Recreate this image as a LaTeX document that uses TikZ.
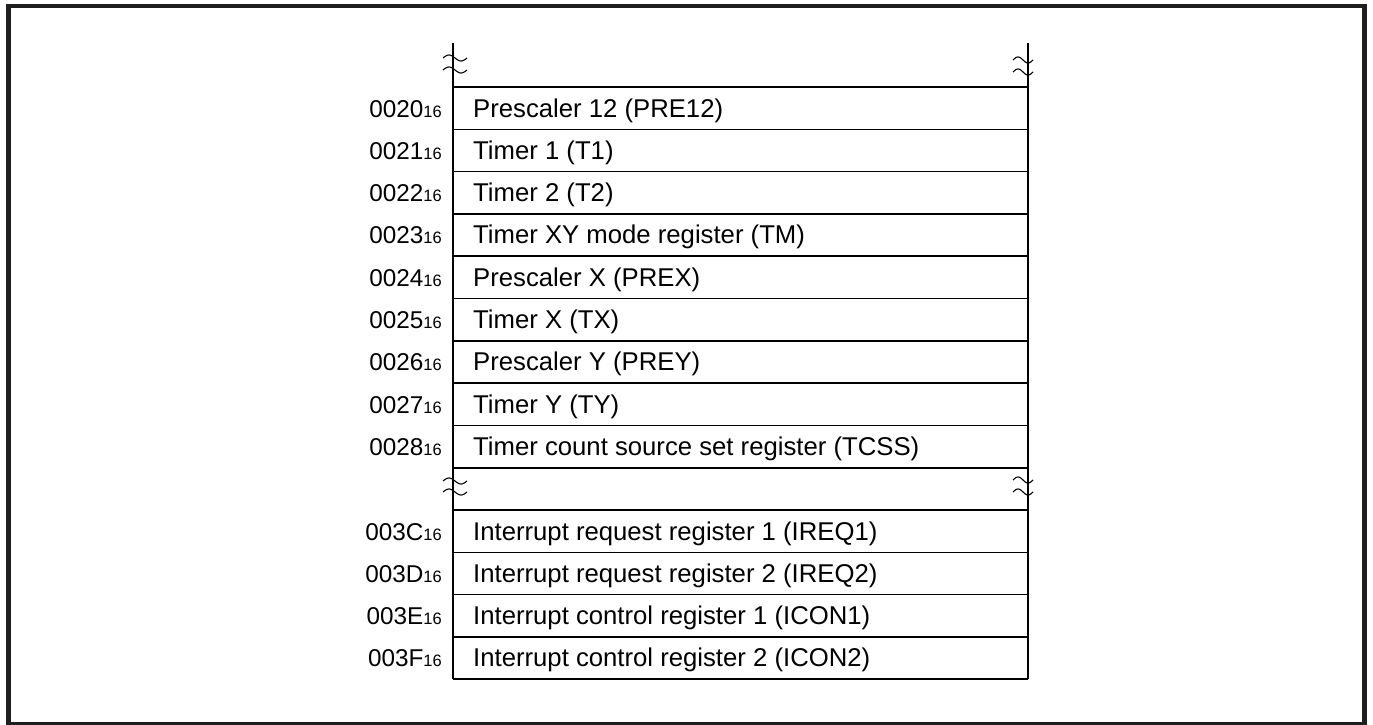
\documentclass[tikz,border=0pt]{standalone}
\usepackage{fontspec}
\setmainfont{Liberation Sans}
\begin{document}
\begin{tikzpicture}[x=1pt,y=-1pt,
  frame/.style={line width=4.6pt,draw=black!88},
  grid/.style={line width=1.6pt},
  wave/.style={line width=1.1pt},
  addr/.style={anchor=base east,inner sep=0pt,font=\fontsize{24.3}{28}\selectfont},
  regtext/.style={anchor=base west,inner sep=0pt,font=\fontsize{25.7}{30}\selectfont}]
\useasboundingbox (0,0) rectangle (1373,725);
\draw[frame] (8.5,6) rectangle (1364.5,724.5);
% grid
\def\L{453}\def\R{1028}
\foreach \k in {0,...,14}{
  \draw[grid] (\L,{87+42.3*\k}) -- (\R,{87+42.3*\k});
}
\draw[grid] (\L,43) -- (\L,{87+42.3*14});
\draw[grid] (\R,43) -- (\R,{87+42.3*14});
% break marks
\foreach \bx/\by/\w in {443/58/24, 443/70/24, 1013/60/20, 1013/72/20,
                      443/481/24, 443/492/24, 1013/480/20, 1013/492/20}{
  \draw[wave] plot[variable=\t,domain=0:\w,samples=30,smooth] ({\bx+\t},{\by-3*sin(\t*360/\w)});
}
% rows
\foreach \k/\a/\txt in {
  0/0020/Prescaler 12 (PRE12),
  1/0021/Timer 1 (T1),
  2/0022/Timer 2 (T2),
  3/0023/Timer XY mode register (TM),
  4/0024/Prescaler X (PREX),
  5/0025/Timer X (TX),
  6/0026/Prescaler Y (PREY),
  7/0027/Timer Y (TY),
  8/0028/Timer count source set register (TCSS),
  10/003C/Interrupt request register 1 (IREQ1),
  11/003D/Interrupt request register 2 (IREQ2),
  12/003E/Interrupt control register 1 (ICON1),
  13/003F/Interrupt control register 2 (ICON2)}{
  \node[addr] (a\k) at (442,{87+42.3*\k+30}) {\a{\fontsize{16.5}{18}\selectfont 16}};
  \node[regtext] (t\k) at (473,{87+42.3*\k+30}) {\txt};
}
\end{tikzpicture}
\end{document}
